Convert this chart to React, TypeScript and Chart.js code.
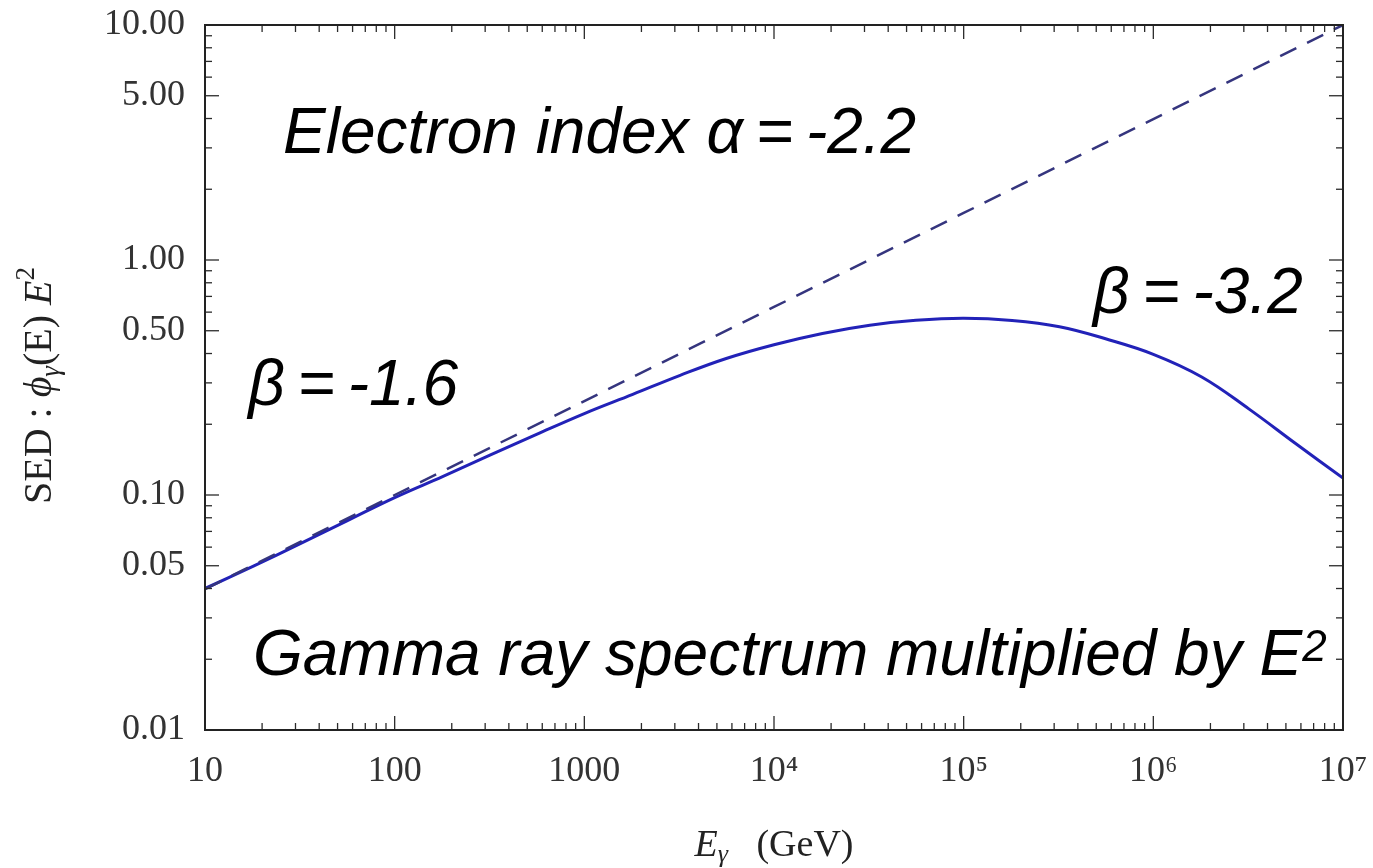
import React, { useEffect, useRef } from "react";
import { Chart, registerables } from "chart.js";

Chart.register(...registerables);

// ---- Data ----
const energyGeV = [
  10, 18, 32, 56, 100, 180, 320, 560, 1000, 1800, 3200, 5600, 1e4, 1.8e4, 3.2e4, 5.6e4,
  1e5, 1.8e5, 3.2e5, 5.6e5, 1e6, 1.8e6, 3.2e6, 5.6e6, 1e7,
];
const sedSolid = [
  0.04, 0.0498, 0.0622, 0.0776, 0.0975, 0.12, 0.148, 0.181, 0.222, 0.268, 0.323, 0.381,
  0.436, 0.487, 0.528, 0.554, 0.565, 0.553, 0.52, 0.462, 0.397, 0.318, 0.232, 0.166, 0.118,
];
const energyDashed = [10, 100, 1000, 1e4, 1e5, 1e6, 1e7];
const sedDashed = [0.0398, 0.1, 0.251, 0.631, 1.585, 3.98, 10.0];

const xTickValues = [10, 100, 1000, 1e4, 1e5, 1e6, 1e7];
const xTickLabels = ["10", "100", "1000", "10\u2074", "10\u2075", "10\u2076", "10\u2077"];
const yTickValues = [0.01, 0.05, 0.1, 0.5, 1, 5, 10];
const yTickLabels = ["0.01", "0.05", "0.10", "0.50", "1.00", "5.00", "10.00"];
const minorMultipliers = [2, 3, 4, 5, 6, 7, 8, 9];

const annotationTexts = ["Electron index \u03b1\u2009=\u2009-2.2", "\u03b2\u2009=\u2009-1.6", "\u03b2\u2009=\u2009-3.2", "Gamma ray spectrum multiplied by E"];

// ---- Presentation ----
const SERIF = "'Liberation Serif', 'Times New Roman', serif";
const SANS = "'Liberation Sans', Arial, sans-serif";
const annotationAnchors = [
  { e: 25.8, v: 2.85 },
  { e: 16.9, v: 0.2415 },
  { e: 4.8e5, v: 0.595 },
  { e: 17.9, v: 0.01714 },
];

type Piece = { t: string; font: string; dy?: number };

function drawPieces(ctx: CanvasRenderingContext2D, pieces: Piece[], x: number, y: number, center: boolean) {
  let total = 0;
  for (const p of pieces) {
    ctx.font = p.font;
    total += ctx.measureText(p.t).width;
  }
  let cx = center ? x - total / 2 : x;
  ctx.textAlign = "left";
  ctx.textBaseline = "alphabetic";
  for (const p of pieces) {
    ctx.font = p.font;
    ctx.fillText(p.t, cx, y + (p.dy || 0));
    cx += ctx.measureText(p.t).width;
  }
}

const frameAndTextPlugin = {
  id: "frameAndText",
  afterDatasetsDraw(chart: any) {
    const { ctx, chartArea: a, scales } = chart;
    const xs = scales.x;
    const ys = scales.y;
    ctx.save();
    ctx.strokeStyle = "#2b2b2b";
    ctx.lineWidth = 1.3;
    const seg = (x1: number, y1: number, x2: number, y2: number) => {
      ctx.beginPath();
      ctx.moveTo(x1, y1);
      ctx.lineTo(x2, y2);
      ctx.stroke();
    };
    // x ticks (bottom & top, inward)
    for (let d = 10; d < 1e7 * 0.999; d *= 10) {
      const pMaj = xs.getPixelForValue(d);
      seg(pMaj, a.bottom, pMaj, a.bottom - 14);
      seg(pMaj, a.top, pMaj, a.top + 14);
      for (const k of minorMultipliers) {
        const p = xs.getPixelForValue(k * d);
        seg(p, a.bottom, p, a.bottom - 7);
        seg(p, a.top, p, a.top + 7);
      }
    }
    // y ticks (left & right, inward)
    for (let d = 0.01; d < 10 * 0.999; d *= 10) {
      const pMaj = ys.getPixelForValue(d);
      seg(a.left, pMaj, a.left + 14, pMaj);
      seg(a.right, pMaj, a.right - 14, pMaj);
      for (const k of minorMultipliers) {
        const p = ys.getPixelForValue(k * d);
        const len = k === 5 ? 14 : 7;
        seg(a.left, p, a.left + len, p);
        seg(a.right, p, a.right - len, p);
      }
    }
    // frame
    ctx.strokeStyle = "#222";
    ctx.lineWidth = 2;
    ctx.strokeRect(a.left, a.top, a.right - a.left, a.bottom - a.top);

    // annotations
    ctx.fillStyle = "#000";
    const big = `italic 64px ${SANS}`;
    for (let i = 0; i < annotationTexts.length; i++) {
      const px = xs.getPixelForValue(annotationAnchors[i].e);
      const py = ys.getPixelForValue(annotationAnchors[i].v);
      const pieces: Piece[] = [{ t: annotationTexts[i], font: big }];
      if (i === 3) pieces.push({ t: "2", font: `italic 44px ${SANS}`, dy: -14 });
      drawPieces(ctx, pieces, px, py, false);
    }

    // x-axis title
    ctx.fillStyle = "#222";
    drawPieces(
      ctx,
      [
        { t: "E", font: `italic 38px ${SERIF}` },
        { t: "\u03b3", font: `italic 26px ${SERIF}`, dy: 6 },
        { t: "   (GeV)", font: `38px ${SERIF}` },
      ],
      (a.left + a.right) / 2,
      856,
      true
    );

    // y-axis title (rotated)
    ctx.translate(51, (a.top + a.bottom) / 2 + 8);
    ctx.rotate(-Math.PI / 2);
    drawPieces(
      ctx,
      [
        { t: "SED : ", font: `40px ${SERIF}` },
        { t: "\u03d5", font: `italic 40px ${SERIF}` },
        { t: "\u03b3", font: `italic 27px ${SERIF}`, dy: 8 },
        { t: "(E) ", font: `40px ${SERIF}` },
        { t: "E", font: `italic 40px ${SERIF}` },
        { t: "2", font: `27px ${SERIF}`, dy: -17 },
      ],
      0,
      0,
      true
    );
    ctx.restore();
  },
};

export default function App() {
  const ref = useRef<HTMLCanvasElement>(null);
  useEffect(() => {
    if (!ref.current) return;
    const chart = new Chart(ref.current, {
      type: "line",
      data: {
        datasets: [
          {
            data: energyDashed.map((e, i) => ({ x: e, y: sedDashed[i] })),
            borderColor: "#35357e",
            borderWidth: 2.5,
            borderDash: [18, 12],
            pointRadius: 0,
            tension: 0,
            fill: false,
          },
          {
            data: energyGeV.map((e, i) => ({ x: e, y: sedSolid[i] })),
            borderColor: "#2222b8",
            borderWidth: 3,
            pointRadius: 0,
            tension: 0.4,
            fill: false,
          },
        ],
      },
      options: {
        animation: false,
        responsive: false,
        events: [],
        layout: { padding: { left: 0, right: 30, top: 25, bottom: 0 } },
        plugins: { legend: { display: false }, tooltip: { enabled: false }, title: { display: false } },
        scales: {
          x: {
            type: "logarithmic",
            min: 10,
            max: 1e7,
            afterBuildTicks: (s: any) => {
              s.ticks = xTickValues.map((v) => ({ value: v }));
            },
            afterFit: (s: any) => {
              s.height = 138;
              s.paddingLeft = 0;
              s.paddingRight = 0;
            },
            ticks: {
              autoSkip: false,
              maxRotation: 0,
              padding: 20,
              color: "#333",
              font: { family: SERIF, size: 36 },
              callback: (_v: any, i: number) => xTickLabels[i],
            },
            grid: { display: false, drawTicks: false },
            border: { display: false },
          },
          y: {
            type: "logarithmic",
            min: 0.01,
            max: 10,
            afterBuildTicks: (s: any) => {
              s.ticks = yTickValues.map((v) => ({ value: v }));
            },
            afterFit: (s: any) => {
              s.width = 205;
              s.paddingTop = 0;
              s.paddingBottom = 0;
            },
            ticks: {
              autoSkip: false,
              padding: 20,
              color: "#333",
              font: { family: SERIF, size: 36 },
              callback: (_v: any, i: number) => yTickLabels[i],
            },
            grid: { display: false, drawTicks: false },
            border: { display: false },
          },
        },
      },
      plugins: [frameAndTextPlugin],
    } as any);
    return () => chart.destroy();
  }, []);
  return (
    <div style={{ position: "absolute", left: 0, top: 0, width: 1373, height: 868, background: "#fff" }}>
      <canvas ref={ref} width={1373} height={868} style={{ display: "block" }} />
    </div>
  );
}
